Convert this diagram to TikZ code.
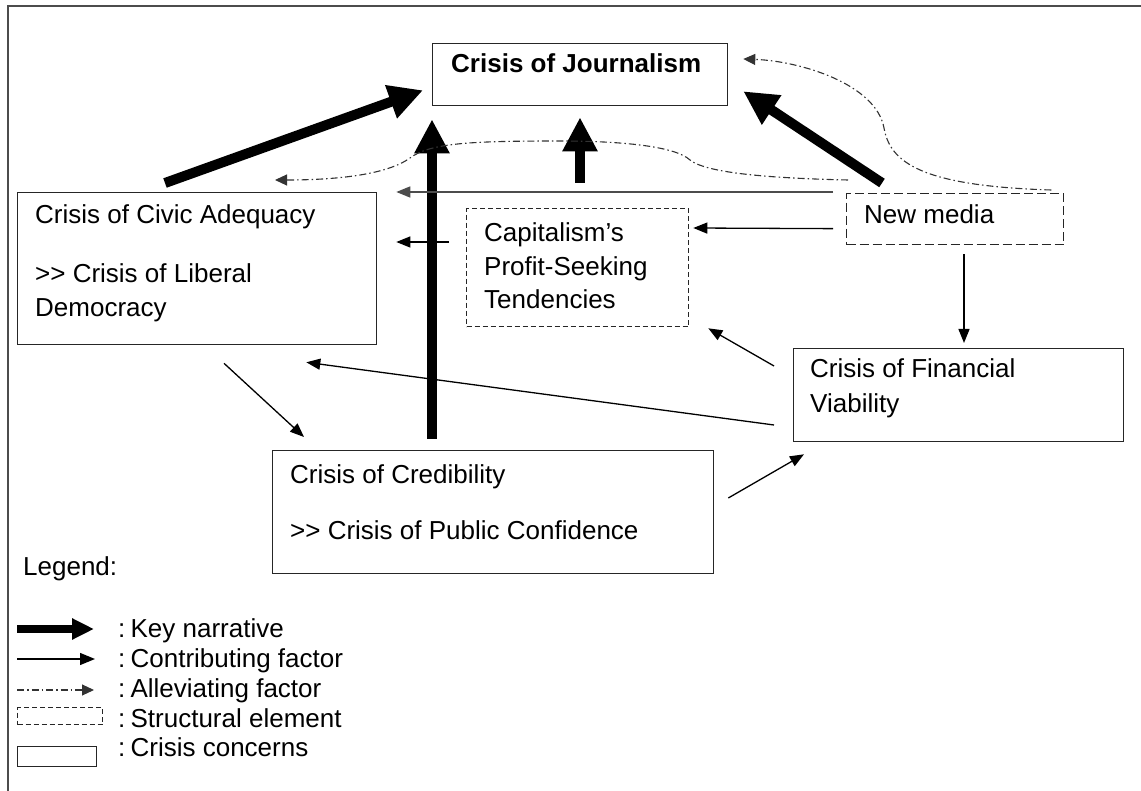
\documentclass[tikz,border=0pt]{standalone}
\usepackage{fontspec}
\setmainfont{Liberation Sans}
\usetikzlibrary{arrows.meta,calc}
\begin{document}
\begin{tikzpicture}[x=1pt,y=-1pt,
  txt/.style={anchor=base west, inner sep=0pt, font=\fontsize{26}{31}\selectfont},
  crisis/.style={draw=black!85, line width=1.3pt, anchor=north west, inner sep=0pt},
  struct/.style={draw=black!85, line width=1.3pt, anchor=north west, inner sep=0pt, dash pattern=on 8pt off 4pt},
  key/.style={line width=10pt, -{Triangle[length=34pt,width=33pt]}},
  contrib/.style={line width=1.3pt, -{Triangle[length=14pt,width=11pt]}},
  allev/.style={line width=1.1pt, draw=black!80, dash pattern=on 7pt off 3pt on 1.5pt off 3pt, -{Triangle[length=12pt,width=11pt]}},
  frame/.style={line width=2pt, draw=black!70}
]
\useasboundingbox (0,0) rectangle (1141,791);
\draw[frame] (8,791) -- (8,6) -- (1141,6);

% boxes
\node[crisis, minimum width=295pt, minimum height=62pt] (journalism) at (432,43) {};
\node[crisis, minimum width=359pt, minimum height=152pt] (civic) at (17,192) {};
\node[struct, dash pattern=on 5pt off 3pt, minimum width=222pt, minimum height=118pt] (capital) at (466,208) {};
\node[struct, dash pattern=on 9pt off 4pt, minimum width=217pt, minimum height=51pt] (newmedia) at (846,193) {};
\node[crisis, minimum width=330pt, minimum height=93pt] (financial) at (793,348) {};
\node[crisis, minimum width=441pt, minimum height=123pt] (credibility) at (272,450) {};

% texts
\node[txt, font=\fontsize{26}{31}\selectfont\bfseries] (journalism-t) at (451,73) {Crisis of Journalism};
\node[txt] (civic-t) at (35,224) {\vtop{\baselineskip=34pt\hbox{Crisis of Civic Adequacy}\vskip25pt\hbox{>{}> Crisis of Liberal}\hbox{Democracy}}};
\node[txt] (capital-t) at (484,242) {\vtop{\baselineskip=33.5pt\hbox{Capitalism’s}\hbox{Profit-Seeking}\hbox{Tendencies}}};
\node[txt] (newmedia-t) at (864,224) {New media};
\node[txt] (financial-t) at (810,378) {\vtop{\baselineskip=35pt\hbox{Crisis of Financial}\hbox{Viability}}};
\node[txt] (credibility-t) at (290,483) {\vtop{\baselineskip=34pt\hbox{Crisis of Credibility}\vskip22pt\hbox{>{}> Crisis of Public Confidence}}};

% key narrative arrows
\draw[key] ($(civic.north west)+(148,-9)$) -- ($(journalism.south west)+(-9,-16)$);
\draw[key] ($(credibility.north west)+(160,-11)$) -- ($(journalism.south west)+(0,13)$);
\draw[key] ($(capital.north west)+(114,-25)$) -- ($(journalism.south west)+(148,11)$);
\draw[key] ($(newmedia.north west)+(36,-10)$) -- ($(journalism.south east)+(15,-15)$);

% contributing factors
\draw[contrib, draw=black!70, line width=1.6pt] ($(newmedia.north west)+(-13,-1)$) -- ($(civic.north east)+(19,0)$);
\draw[contrib] ($(newmedia.west)+(-13,9.5)$) -- ($(capital.north east)+(4,20)$);
\draw[contrib] ($(capital.north west)+(-17,34)$) -- ($(civic.north east)+(19,50)$);
\draw[contrib] ($(newmedia.south west)+(118,9)$) -- ($(financial.north west)+(171,-5)$);
\draw[contrib] ($(financial.north west)+(-19,18)$) -- ($(capital.south east)+(19,1)$);
\draw[contrib] ($(financial.north west)+(-19,77)$) -- ($(civic.south east)+(-71,17)$);
\draw[contrib] ($(civic.south west)+(207,18)$) -- ($(credibility.north west)+(32,-13)$);
\draw[contrib] ($(credibility.north east)+(14,48)$) -- ($(financial.south west)+(11,12)$);

% alleviating factors
\coordinate (nmA) at ($(newmedia.north east)+(-13,-3)$);
\coordinate (joA) at ($(journalism.north east)+(15,16)$);
\draw[allev] (nmA) .. controls (920,186) and (890,162) .. (884,128) .. controls (876,84) and (800,61) .. (joA);
\coordinate (nmB) at ($(newmedia.north west)+(2,-13)$);
\coordinate (ciB) at ($(civic.north west)+(258,-12)$);
\draw[allev] (nmB) .. controls (760,178) and (705,172) .. (690,160)
  .. controls (675,146) and (620,141) .. (560,141)
  .. controls (470,141) and (430,143) .. (410,158)
  .. controls (385,176) and (330,180) .. (ciB);

% legend
\node[txt] (legend) at (23,575) {Legend:};
\coordinate (lk1) at (17,629); \coordinate (lk2) at (94,629);
\draw[line width=8pt, -{Triangle[length=22pt,width=20pt]}] (lk1) -- (lk2);
\node[txt] (lkey) at (118,637) {:\hspace{0.2em}Key narrative};
\coordinate (lc1) at (17,659); \coordinate (lc2) at (95,659);
\draw[line width=1.3pt, -{Triangle[length=15pt,width=12pt]}] (lc1) -- (lc2);
\node[txt] (lcontrib) at (118,667) {:\hspace{0.2em}Contributing factor};
\coordinate (la1) at (17,690); \coordinate (la2) at (94,690);
\draw[allev] (la1) -- (la2);
\node[txt] (lallev) at (118,697) {:\hspace{0.2em}Alleviating factor};
\node[struct, dash pattern=on 5pt off 3pt, minimum width=85pt, minimum height=17pt] (lstruct) at (17,707) {};
\node[txt] (lstruct-t) at (118,727) {:\hspace{0.2em}Structural element};
\node[crisis, minimum width=79pt, minimum height=20pt] (lcrisis) at (17,746) {};
\node[txt] (lcrisis-t) at (118,756) {:\hspace{0.2em}Crisis concerns};
\end{tikzpicture}
\end{document}
